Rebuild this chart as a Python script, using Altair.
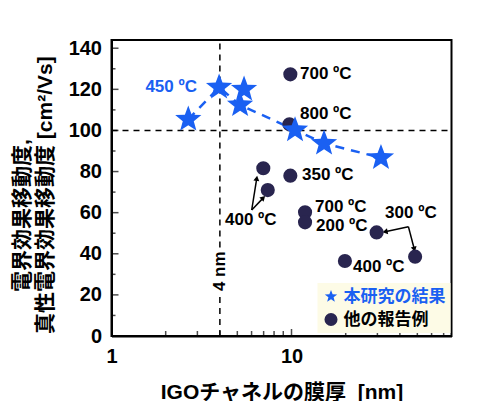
import altair as alt
import pandas as pd

FONT = "Liberation Sans, 'Noto Sans CJK JP', sans-serif"
BLUE = "#1a60f2"
NAVY = "#29254f"

# --- data ---
star_x = [2.67, 3.96, 5.45, 5.18, 10.46, 15.16, 31.4]
star_y = [105.4, 121.0, 120.0, 112.4, 100.2, 93.7, 86.7]
star_line_order = [1, 2, 0, 3, 4, 5, 6]   # 0 = not on the dashed line

other_x = [9.85, 9.74, 9.85, 6.97, 7.38, 11.89, 11.89, 29.7, 48.6, 19.8]
other_y = [127.3, 103.0, 78.0, 81.6, 71.0, 60.2, 55.3, 50.4, 38.6, 36.5]

label_text = ["700 ºC", "800 ºC", "350 ºC", "400 ºC", "700 ºC", "200 ºC", "300 ºC", "400 ºC"]
label_x = [11.15, 11.15, 11.44, 4.27, 13.5, 13.68, 33.1, 21.96]
label_y = [127.3, 108.0, 78.3, 56.4, 62.9, 53.7, 60.0, 33.7]

blue_label_text = ["450 ºC"]
blue_label_x = [2.985]
blue_label_y = [121.1]

arrow_x = [6.01, 6.01, 44.6, 44.6]
arrow_y = [61.3, 61.3, 53.2, 53.2]
arrow_x2 = [6.41, 6.97, 33.1, 48.1]
arrow_y2 = [76.7, 67.2, 50.7, 42.2]
arrow_angle = [9, 45, 258, 165]

hline_y = [100]
vline_x = [4, 4]
vline_y = [0, 43]
vline_y2 = [19, 144]
nm_text = ["4 nm"]
nm_x = [4]
nm_y = [31.5]

y_major = [0, 20, 40, 60, 80, 100, 120, 140]
y_minor = [10, 30, 50, 70, 90, 110, 130]
x_labels = [1, 10]
x_major = [10]
x_minor = [2, 3, 4, 5, 6, 7, 8, 9, 20, 30, 40, 50, 60, 70]

series_names = ["本研究の結果", "他の報告例"]
y_title_line1 = ["電界効果移動度,"]
y_title_line2 = ["真性電界効果移動度 [cm²/Vs]"]
x_title = "IGOチャネルの膜厚\u00a0\u00a0[nm]"

STAR = ("M0,-1 L0.2469,-0.3399 L0.9511,-0.309 L0.3996,0.1298 L0.5878,0.809 "
        "L0,0.42 L-0.5878,0.809 L-0.3996,0.1298 L-0.9511,-0.309 L-0.2469,-0.3399 Z")

W, H = 340, 296

xs = alt.Scale(type="log", domain=[1, 77.4], nice=False)
ys = alt.Scale(domain=[0, 144], nice=False, zero=False)

x_axis = alt.Axis(values=x_labels, format="d", labelFlush=False, labelOverlap=False,
                  ticks=False, labelPadding=10, grid=False,
                  title=x_title, titlePadding=15)
y_axis = alt.Axis(values=y_major, labelOverlap=False, ticks=False,
                  labelPadding=10, grid=False, title=None)


def X(f):
    return alt.X(f, type="quantitative", scale=xs, axis=x_axis)


def Y(f):
    return alt.Y(f, type="quantitative", scale=ys, axis=y_axis)


color_scale = alt.Scale(domain=series_names, range=[BLUE, NAVY])
shape_scale = alt.Scale(domain=series_names, range=[STAR, "circle"])

legend = alt.Legend(
    orient="none", legendX=206, legendY=243, title=None,
    fillColor="#fdfbe6", padding=5, rowPadding=5,
    labelFont=FONT, labelFontSize=17, labelFontWeight="bold",
    labelColor={"expr": "datum.label == '本研究の結果' ? '%s' : 'black'" % BLUE},
    symbolSize=170, labelOffset=4, symbolStrokeWidth=0,
)

stars = pd.DataFrame({"x": star_x, "y": star_y, "o": star_line_order, "kind": series_names[0]})
others = pd.DataFrame({"x": other_x, "y": other_y, "kind": series_names[1]})
labels = pd.DataFrame({"x": label_x, "y": label_y, "t": label_text})
blabels = pd.DataFrame({"x": blue_label_x, "y": blue_label_y, "t": blue_label_text})
arrows = pd.DataFrame({"x": arrow_x, "y": arrow_y, "x2": arrow_x2, "y2": arrow_y2, "a": arrow_angle})
hl = pd.DataFrame({"y": hline_y})
vlines = pd.DataFrame({"x": vline_x, "y": vline_y, "y2": vline_y2})
nm = pd.DataFrame({"x": nm_x, "y": nm_y, "t": nm_text})
ymaj = pd.DataFrame({"y": y_major})
ymin = pd.DataFrame({"y": y_minor})
xmaj = pd.DataFrame({"x": x_major})
xmin = pd.DataFrame({"x": x_minor})
yt1 = pd.DataFrame({"t": y_title_line1})
yt2 = pd.DataFrame({"t": y_title_line2})

tick_kw = dict(thickness=1.5, color="black")

ymaj_ticks = alt.Chart(ymaj).mark_tick(orient="horizontal", **tick_kw).encode(
    y=Y("y"), x=alt.value(3.5), size=alt.value(7))
ymin_ticks = alt.Chart(ymin).mark_tick(orient="horizontal", **tick_kw).encode(
    y=Y("y"), x=alt.value(2), size=alt.value(4))
xmaj_ticks = alt.Chart(xmaj).mark_tick(orient="vertical", **tick_kw).encode(
    x=X("x"), y=alt.value(H - 3.5), size=alt.value(7))
xmin_ticks = alt.Chart(xmin).mark_tick(orient="vertical", **tick_kw).encode(
    x=X("x"), y=alt.value(H - 2.5), size=alt.value(5))

hline = alt.Chart(hl).mark_rule(color="black", strokeDash=[6, 5], strokeWidth=1.5).encode(
    y=Y("y"), x=alt.value(0), x2=alt.value(W))
vline = alt.Chart(vlines).mark_rule(color="black", strokeDash=[6, 5], strokeWidth=1.5).encode(
    x=X("x"), y=Y("y"), y2="y2:Q")
nm_lbl = alt.Chart(nm).mark_text(angle=270, font=FONT, fontSize=17, fontWeight="bold",
                                 color="black", baseline="middle", align="center").encode(
    x=X("x"), y=Y("y"), text="t:N")

star_line = alt.Chart(stars).transform_filter("datum.o > 0").mark_line(
    color=BLUE, strokeDash=[9, 7], strokeWidth=2.5).encode(
    x=X("x"), y=Y("y"), order="o:Q")

arrow_lines = alt.Chart(arrows).mark_rule(color="black", strokeWidth=1.5).encode(
    x=X("x"), y=Y("y"), x2="x2:Q", y2="y2:Q")
arrow_heads = alt.Chart(arrows).mark_point(shape="triangle-up", filled=True, color="black",
                                           size=35, opacity=1).encode(
    x=X("x2"), y=Y("y2"), angle=alt.Angle("a:Q", scale=None))

other_pts = alt.Chart(others).mark_point(filled=True, size=200, opacity=1, strokeWidth=0).encode(
    x=X("x"), y=Y("y"),
    color=alt.Color("kind:N", scale=color_scale, legend=legend),
    shape=alt.Shape("kind:N", scale=shape_scale, legend=legend))
star_pts = alt.Chart(stars).mark_point(filled=True, size=760, opacity=1, strokeWidth=0).encode(
    x=X("x"), y=Y("y"),
    color=alt.Color("kind:N", scale=color_scale, legend=legend),
    shape=alt.Shape("kind:N", scale=shape_scale, legend=legend))

lbls = alt.Chart(labels).mark_text(align="left", baseline="middle", font=FONT, fontSize=17,
                                   fontWeight="bold", color="black").encode(
    x=X("x"), y=Y("y"), text="t:N")
blbls = alt.Chart(blabels).mark_text(align="right", baseline="middle", font=FONT, fontSize=17,
                                     fontWeight="bold", color=BLUE).encode(
    x=X("x"), y=Y("y"), text="t:N")

ytitle_kw = dict(angle=270, align="left", baseline="middle", font=FONT, fontSize=21,
                 fontWeight="bold", color="black")
ytitle1 = alt.Chart(yt1).mark_text(**ytitle_kw).encode(
    x=alt.value(-89), y=alt.value(252), text="t:N")
ytitle2 = alt.Chart(yt2).mark_text(**ytitle_kw).encode(
    x=alt.value(-66), y=alt.value(294), text="t:N")

chart = alt.layer(
    ymaj_ticks, ymin_ticks, xmaj_ticks, xmin_ticks, hline, vline, nm_lbl,
    star_line, arrow_lines, arrow_heads, other_pts, star_pts, lbls, blbls,
    ytitle1, ytitle2,
).properties(
    width=W, height=H,
    autosize=alt.AutoSizeParams(type="none"),
    padding={"left": 103.5, "top": 32, "right": 40, "bottom": 65},
).configure_view(
    stroke="black", strokeWidth=2,
).configure_axis(
    domainColor="black", domainWidth=2,
    labelFont=FONT, labelFontSize=20, labelFontWeight="bold", labelColor="black",
    titleFont=FONT, titleFontSize=21, titleFontWeight="bold", titleColor="black",
)

chart.save("out.html", embed_options={"renderer": "svg", "actions": False})
